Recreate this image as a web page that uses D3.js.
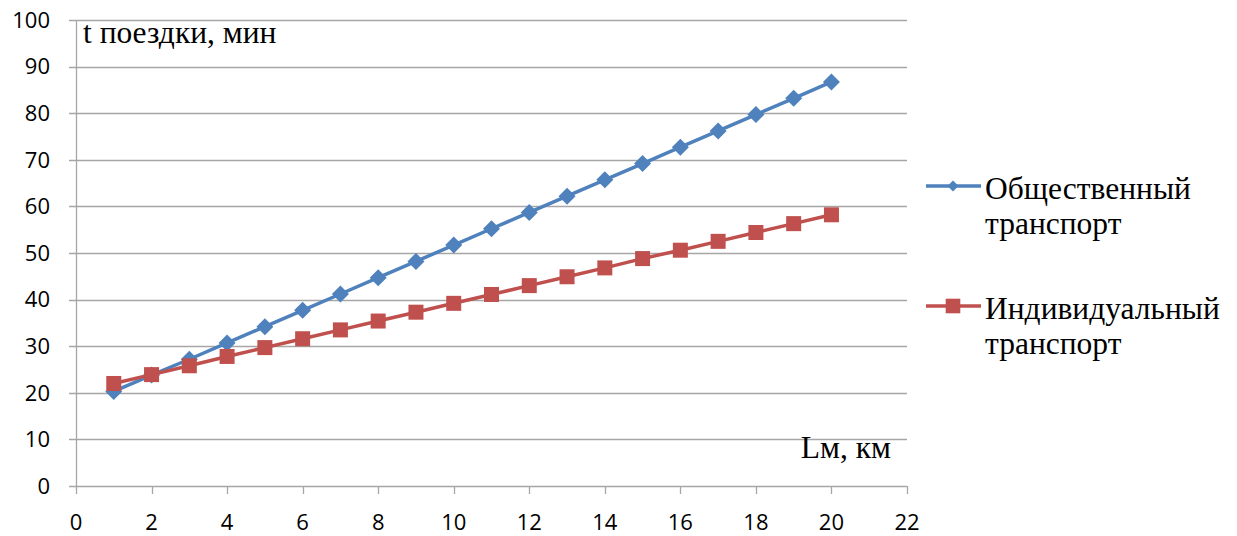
<!DOCTYPE html>
<html>
<head>
<meta charset="utf-8">
<script src="https://cdn.jsdelivr.net/npm/d3@7/dist/d3.min.js"></script>
<style>
  html, body { margin: 0; padding: 0; background: #fff; }
  svg { display: block; }
</style>
</head>
<body>
<svg id="chart" width="1237" height="536"></svg>
<script>
// Trip distance, km
const distances = [1, 2, 3, 4, 5, 6, 7, 8, 9, 10, 11, 12, 13, 14, 15, 16, 17, 18, 19, 20];
// Trip time, minutes
const publicTransport = [20.3, 23.8, 27.2, 30.7, 34.2, 37.7, 41.2, 44.7, 48.2, 51.7,
                         55.2, 58.7, 62.2, 65.7, 69.2, 72.7, 76.2, 79.7, 83.2, 86.7];
const individualTransport = [22.0, 23.9, 25.8, 27.8, 29.7, 31.6, 33.5, 35.4, 37.3, 39.2,
                             41.1, 43.0, 44.9, 46.8, 48.8, 50.6, 52.5, 54.4, 56.3, 58.2];
const xTicks = [0, 2, 4, 6, 8, 10, 12, 14, 16, 18, 20, 22];
const yTicks = [0, 10, 20, 30, 40, 50, 60, 70, 80, 90, 100];
const seriesNames = [["Общественный", "транспорт"], ["Индивидуальный", "транспорт"]];
const yTitle = "t поездки, мин";
const xTitle = "Lм, км";

const svg = d3.select("#chart");
const plotLeft = 76, plotRight = 907, plotTop = 20, plotBottom = 486;

const x = d3.scaleLinear().domain([0, 22]).range([plotLeft, plotRight]);
const y = d3.scaleLinear().domain([0, 100]).range([plotBottom, plotTop]);

const gridColor = "#a6a6a6";
const tickFont = "'Open Sans', sans-serif";
const serif = "'Liberation Serif', 'Times New Roman', serif";

// horizontal gridlines (extend slightly left of the axis as tick marks)
svg.append("g")
  .selectAll("line")
  .data(yTicks)
  .join("line")
  .attr("x1", plotLeft - 7).attr("x2", plotRight)
  .attr("y1", d => Math.round(y(d)) + 0.5).attr("y2", d => Math.round(y(d)) + 0.5)
  .attr("stroke", gridColor).attr("stroke-width", 1.3);

// vertical axis line
svg.append("line")
  .attr("x1", plotLeft + 0.5).attr("x2", plotLeft + 0.5)
  .attr("y1", plotTop).attr("y2", plotBottom)
  .attr("stroke", gridColor).attr("stroke-width", 1.3);

// x tick marks
svg.append("g")
  .selectAll("line")
  .data(xTicks)
  .join("line")
  .attr("x1", d => Math.round(x(d)) + 0.5).attr("x2", d => Math.round(x(d)) + 0.5)
  .attr("y1", plotBottom).attr("y2", plotBottom + 8)
  .attr("stroke", gridColor).attr("stroke-width", 1.3);

// y tick labels
svg.append("g")
  .selectAll("text")
  .data(yTicks)
  .join("text")
  .attr("x", 50).attr("y", d => y(d))
  .attr("dy", "0.35em")
  .attr("text-anchor", "end")
  .attr("font-family", tickFont).attr("font-size", 22)
  .attr("fill", "#000")
  .text(d => d);

// x tick labels
svg.append("g")
  .selectAll("text")
  .data(xTicks)
  .join("text")
  .attr("x", d => x(d)).attr("y", 522)
  .attr("dy", "0.35em")
  .attr("text-anchor", "middle")
  .attr("font-family", tickFont).attr("font-size", 22)
  .attr("fill", "#000")
  .text(d => d);

// axis titles
svg.append("text")
  .attr("x", 83).attr("y", 43)
  .attr("font-family", serif).attr("font-size", 31.5)
  .attr("fill", "#000")
  .text(yTitle);

svg.append("text")
  .attr("x", 891).attr("y", 458)
  .attr("text-anchor", "end")
  .attr("font-family", serif).attr("font-size", 31.5)
  .attr("fill", "#000")
  .text(xTitle);

const series = [
  { values: publicTransport, color: "#4f81bd", marker: "diamond", size: 8.5, legendSize: 5.5 },
  { values: individualTransport, color: "#c0504d", marker: "square", size: 7.5, legendSize: 7.3 }
];

const line = d3.line().x(d => x(d[0])).y(d => y(d[1]));

function drawMarker(g, kind, color, size) {
  if (kind === "diamond") {
    g.append("path")
      .attr("d", `M0,${-size}L${size},0L0,${size}L${-size},0Z`)
      .attr("fill", color);
  } else {
    g.append("rect")
      .attr("x", -size).attr("y", -size)
      .attr("width", size * 2).attr("height", size * 2)
      .attr("fill", color);
  }
}

series.forEach(s => {
  const pts = distances.map((d, i) => [d, s.values[i]]);
  svg.append("path")
    .datum(pts)
    .attr("d", line)
    .attr("fill", "none")
    .attr("stroke", s.color)
    .attr("stroke-width", 3.5)
    .attr("stroke-linejoin", "round");
  svg.append("g")
    .selectAll("g")
    .data(pts)
    .join("g")
    .attr("transform", d => `translate(${x(d[0])},${y(d[1])})`)
    .each(function () {
      drawMarker(d3.select(this), s.marker, s.color, s.size);
    });
});

// legend
const legendRows = [186, 306];
series.forEach((s, i) => {
  const g = svg.append("g").attr("transform", `translate(0,${legendRows[i]})`);
  g.append("line")
    .attr("x1", 926).attr("x2", 981)
    .attr("y1", 0).attr("y2", 0)
    .attr("stroke", s.color).attr("stroke-width", 3.5);
  const m = g.append("g").attr("transform", "translate(953,0)");
  drawMarker(m, s.marker, s.color, s.legendSize);
  g.append("text")
    .attr("x", 985).attr("y", 12.5)
    .attr("font-family", serif).attr("font-size", 31.5)
    .attr("fill", "#000")
    .text(seriesNames[i][0]);
  g.append("text")
    .attr("x", 985).attr("y", 47.5)
    .attr("font-family", serif).attr("font-size", 31.5)
    .attr("fill", "#000")
    .text(seriesNames[i][1]);
});
</script>
</body>
</html>
